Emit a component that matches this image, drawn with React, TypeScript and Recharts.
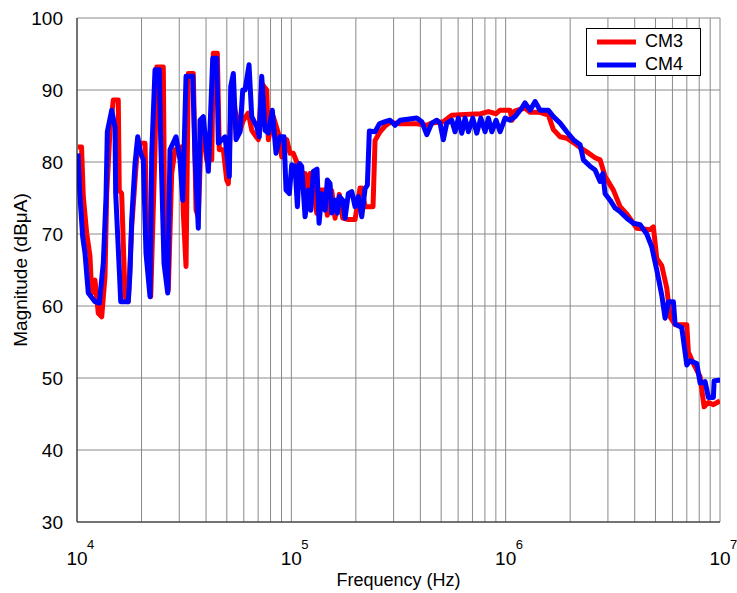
import { LineChart, Line, XAxis, YAxis, CartesianGrid, Legend } from "recharts";

const cm3Freq = [
  10100, 10500, 10700, 11100, 11500, 11710, 12130, 12570, 13040, 13510, 13760, 14260, 14770, 15580, 15750, 16160,
  16750, 17350, 18000, 18990, 19680, 20770, 21290, 22080, 23120, 23550, 25270, 25740, 26670, 27660, 28670, 30810,
  31340, 32260, 33060, 34890, 35920, 36810, 38190, 40300, 42530, 43250, 45160, 46130, 48160, 49940, 50820, 52710,
  54620, 57630, 59700, 63000, 65360, 70150, 72760, 76780, 78120, 82410, 86970, 90220, 95170, 98600, 102200, 106000,
  110600, 115900, 118000, 122300, 126700, 131400, 134700, 143700, 147200, 154400, 160000, 167500, 173700, 184500,
  198300, 209300, 213100, 220800, 240500, 245800, 259300, 273600, 288800, 321600, 384800, 428500, 452000, 512000,
  560300, 646500, 765500, 830700, 902200, 942100, 1048000, 1071000, 1106000, 1231000, 1300000, 1447000, 1582000,
  1670000, 1795000, 1928000, 2070000, 2225000, 2391000, 2614000, 2758000, 2910000, 3181000, 3419000, 3674000,
  4090000, 4717000, 4888000, 5070000, 5350000, 5645000, 5848000, 6172000, 6998000, 7120000, 7513000, 8074000,
  8430000, 8827000, 9315000, 9829000, 10000000,
];
const cm3Mag = [
  82.1, 82.1, 75.2, 70.1, 66.9, 61.8, 63.6, 59, 58.5, 64.1, 75.6, 84.4, 88.6, 88.6, 76.1, 75.6,
  61.3, 60.6, 71, 80.7, 82.6, 82.6, 67.3, 61.3, 81.7, 93.2, 93.2, 66.4, 62.2, 78.4, 81.7, 82.1,
  72.9, 65.5, 92.3, 92.3, 73.3, 72.4, 85.8, 80.3, 80.3, 95.1, 95.1, 81.7, 81.7, 77.5, 77, 90.9,
  87.2, 84.4, 85.8, 86.8, 84.4, 83.1, 90.9, 90, 83.1, 86.3, 84, 80.7, 83.1, 81.2, 81.2, 80,
  78.4, 78.4, 74.3, 78.4, 76.5, 72.9, 76.1, 76.1, 72.6, 76, 72.2, 75.5, 72.2, 72,
  72, 76.4, 76.4, 73.8, 73.8, 83, 84.2, 85, 85.5, 85.3, 85.3, 85.1, 85.4, 85.6,
  86.5, 86.6, 86.7, 87, 86.7, 87.2, 87.2, 85.8, 87.1, 87.5, 86.9, 86.9, 86.5,
  84.5, 83.5, 83.3, 82.7, 82, 81.4, 80.6, 80.3, 78, 76.1, 73.8, 72.8,
  70.8, 70.6, 71, 66.6, 65.6, 62.5, 58.5, 57.4, 57.4, 53.6, 52, 50.2,
  46, 46.6, 46.3, 46.7, 46.8,
];

const cm4Freq = [
  10100, 10300, 10630, 10900, 11290, 12130, 12710, 13270, 13660, 13850, 14520, 15040, 15150, 15750, 15990, 17350,
  17670, 18000, 18650, 19200, 19830, 20390, 20990, 21910, 22320, 23120, 24210, 24580, 25470, 26500, 27160, 28970,
  30250, 31140, 32260, 34670, 35530, 36810, 37500, 38850, 41010, 42980, 44870, 45650, 49050, 51370, 52150, 53630,
  55210, 57630, 59330, 60800, 63480, 65360, 68950, 70910, 72760, 75400, 78120, 81520, 84840, 88590, 92470, 94470,
  97880, 100400, 104100, 106700, 109000, 111800, 115900, 120100, 123200, 126700, 131800, 134700, 138700, 143700,
  147200, 151600, 154400, 160000, 163900, 167500, 173700, 178100, 184500, 191400, 198300, 205500, 213100, 220800,
  226300, 231200, 245800, 257400, 273600, 288800, 304700, 321600, 384800, 406000, 428500, 452000, 477000, 494100,
  512000, 531000, 560300, 580600, 601600, 624000, 646500, 669800, 702300, 733200, 765500, 801800, 830700, 861500,
  902200, 942100, 993600, 1048000, 1106000, 1189000, 1231000, 1300000, 1372000, 1447000, 1582000, 1670000, 1795000,
  1928000, 2070000, 2225000, 2305000, 2477000, 2614000, 2758000, 2839000, 2910000, 3070000, 3240000, 3419000,
  3674000, 3944000, 4238000, 4553000, 4805000, 5070000, 5350000, 5543000, 5743000, 6060000, 6172000, 6632000,
  6998000, 7251000, 7793000, 8074000, 8520000, 8827000, 9315000, 9386000, 9829000, 10000000,
];
const cm4Mag = [
  81.2, 75.7, 69.6, 67.3, 61.8, 60.6, 60.4, 66, 75.2, 84.2, 87.2, 84.9, 75.7, 65, 60.6, 60.6,
  64.6, 72, 79.8, 83.5, 81.2, 80.3, 67.3, 61.3, 81.2, 92.8, 92.8, 83, 65.9, 61.8, 81.7, 83.5,
  80.3, 74.7, 91.9, 91.9, 80.7, 70.8, 85.8, 86.3, 78.7, 94.4, 94.4, 82.6, 83.5, 78, 90.5, 92.3,
  83.1, 84.2, 90, 90, 93.5, 86.3, 84.9, 83.5, 91.9, 84.4, 84, 87.2, 81.2, 83.5, 83.5, 76.1,
  75.6, 79.6, 79.4, 73.8, 79.8, 79.4, 72.4, 76.1, 73.3, 78.7, 79, 71.5, 75.6, 73.3,
  77.5, 77, 72.9, 74.7, 72.9, 75.2, 74.7, 72.2, 75.6, 75.9, 73.8, 75.2, 72.4, 76.3,
  76.8, 84.3, 84.2, 85.3, 85.6, 85.8, 85.1, 85.8, 86.1, 85.6, 83.8, 85.4, 85.8, 85.4,
  83.1, 85.4, 85.8, 84.2, 86.1, 84, 86.1, 84.2, 86.1, 84, 86.1, 84.2, 86.1, 84.2,
  85.8, 84.2, 86.1, 85.8, 86.3, 87.5, 88.2, 87.2, 88.4, 87.2, 87.2, 86.3, 85.4,
  84.2, 83.1, 82.4, 80.3, 79.4, 78.9, 77.3, 78.4, 75.6, 74.7, 73.6, 73.1,
  72.2, 71.5, 71.3, 70, 68.2, 65, 61.5, 58.3, 60.6, 60.6, 57.5, 57,
  51.8, 52.4, 52, 49.3, 49.5, 47.3, 47.3, 49.6, 49.7, 49.7,
];

const xTicks = [
  10000, 20000, 30000, 40000, 50000, 60000, 70000, 80000, 90000,
  100000, 200000, 300000, 400000, 500000, 600000, 700000, 800000, 900000,
  1000000, 2000000, 3000000, 4000000, 5000000, 6000000, 7000000, 8000000, 9000000,
  10000000,
];
const decadeLabels: Record<number, string> = { 10000: "4", 100000: "5", 1000000: "6", 10000000: "7" };
const yTicks = [30, 40, 50, 60, 70, 80, 90, 100];

const cm3 = cm3Freq.map((f, i) => ({ f, mag: cm3Mag[i] }));
const cm4 = cm4Freq.map((f, i) => ({ f, mag: cm4Mag[i] }));

const FONT = "'Liberation Sans', Arial, sans-serif";

const XTick = ({ x, y, payload }: any) => {
  const exp = decadeLabels[payload.value];
  if (!exp) return null;
  return (
    <g fontFamily={FONT} fill="#000">
      <text x={x} y={y + 35} textAnchor="middle" fontSize={19}>10</text>
      <text x={x + 10} y={y + 19} textAnchor="start" fontSize={13}>{exp}</text>
    </g>
  );
};

const YTick = ({ x, y, payload }: any) => (
  <text x={x - 6} y={y} dy={7} textAnchor="end" fontSize={19} fontFamily={FONT} fill="#000">
    {payload.value}
  </text>
);

const LegendBox = () => (
  <div
    style={{
      border: "1px solid #000",
      background: "#fff",
      width: 115,
      height: 48,
      fontFamily: FONT,
      fontSize: 18,
      color: "#000",
      boxSizing: "border-box",
      paddingTop: 1,
    }}
  >
    {[
      { name: "CM3", color: "#ff0000" },
      { name: "CM4", color: "#0000ff" },
    ].map((item) => (
      <div key={item.name} style={{ display: "flex", alignItems: "center", height: 23 }}>
        <svg width={58} height={10} style={{ marginLeft: 9 }}>
          <line x1={1} y1={5} x2={40} y2={5} stroke={item.color} strokeWidth={5} />
        </svg>
        <span style={{ marginLeft: -9 }}>{item.name}</span>
      </div>
    ))}
  </div>
);

export default function App() {
  return (
    <div style={{ position: "absolute", left: 0, top: 0, background: "#fff" }}>
      <LineChart width={737} height={593} margin={{ top: 18, right: 17, bottom: 0, left: 0 }}>
        <CartesianGrid stroke="#8a8a8a" strokeWidth={1} />
        <XAxis
          dataKey="f"
          type="number"
          scale="log"
          domain={[10000, 10000000]}
          allowDataOverflow
          ticks={xTicks}
          interval={0}
          tick={<XTick />}
          tickLine={false}
          height={71}
          axisLine={{ stroke: "#222", strokeWidth: 1 }}
          label={{
            value: "Frequency (Hz)",
            position: "insideBottom",
            offset: 7,
            style: { fontFamily: FONT, fontSize: 18, fill: "#000" },
          }}
        />
        <XAxis
          xAxisId="top"
          orientation="top"
          dataKey="f"
          type="number"
          scale="log"
          domain={[10000, 10000000]}
          allowDataOverflow
          ticks={xTicks}
          tick={false}
          tickLine={false}
          height={0}
          axisLine={{ stroke: "#222", strokeWidth: 1 }}
        />
        <YAxis
          type="number"
          domain={[30, 100]}
          ticks={yTicks}
          interval={0}
          tick={<YTick />}
          tickLine={false}
          width={77}
          axisLine={{ stroke: "#222", strokeWidth: 1 }}
          label={{
            value: "Magnitude (dBμA)",
            angle: -90,
            position: "insideLeft",
            offset: 20,
            style: { fontFamily: FONT, fontSize: 19, fill: "#000", textAnchor: "middle" },
          }}
        />
        <YAxis
          yAxisId="right"
          orientation="right"
          type="number"
          domain={[30, 100]}
          ticks={yTicks}
          tick={false}
          tickLine={false}
          width={0}
          axisLine={{ stroke: "#222", strokeWidth: 1 }}
        />
        <Legend
          layout="vertical"
          align="center"
          verticalAlign="middle"
          content={<LegendBox />}
          wrapperStyle={{ position: "absolute", left: 586, top: 28, width: 117 }}
        />
        <Line
          data={cm3}
          dataKey="mag"
          name="CM3"
          stroke="#ff0000"
          strokeWidth={5}
          dot={false}
          isAnimationActive={false}
          strokeLinejoin="round"
        />
        <Line
          data={cm4}
          dataKey="mag"
          name="CM4"
          stroke="#0000ff"
          strokeWidth={5}
          dot={false}
          isAnimationActive={false}
          strokeLinejoin="round"
        />
      </LineChart>
    </div>
  );
}
